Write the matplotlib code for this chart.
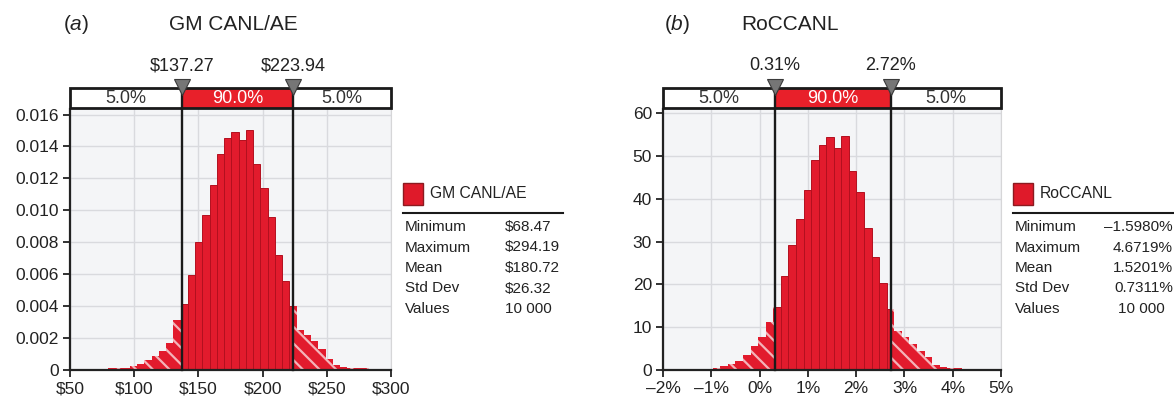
import numpy as np
import matplotlib
matplotlib.use("Agg")
import matplotlib.pyplot as plt
from matplotlib.patches import Rectangle
from matplotlib.transforms import blended_transform_factory
from matplotlib.lines import Line2D

plt.rcParams['font.family'] = ['Liberation Sans', 'DejaVu Sans']
plt.rcParams['mathtext.fontset'] = 'custom'
plt.rcParams['mathtext.rm'] = 'Liberation Sans'
plt.rcParams['mathtext.it'] = 'Liberation Sans:italic'
plt.rcParams['hatch.linewidth'] = 1.6

# ---- data ----
gm_name = "GM CANL/AE"
gm_min, gm_max = 68.47, 294.19
gm_lo, gm_hi = 137.27, 223.94
gm_heights = [0.00008, 0.00008, 0.0001, 0.0001, 0.00015, 0.00025, 0.0004, 0.0006,
              0.0009, 0.0012, 0.0017, 0.0031,
              0.00413, 0.00596, 0.00802, 0.00969, 0.01158, 0.0135, 0.01454, 0.01492,
              0.01438, 0.01502, 0.01288, 0.01138, 0.00958, 0.00721, 0.00558,
              0.0040, 0.0025, 0.0022, 0.0018, 0.0013, 0.0007, 0.0003, 0.0002,
              0.00012, 0.0001, 0.0001, 0.00008, 0.00006]
gm_xticks = [50, 100, 150, 200, 250, 300]
gm_xticklabels = ["$50", "$100", "$150", "$200", "$250", "$300"]
gm_yticks = [0, 0.002, 0.004, 0.006, 0.008, 0.010, 0.012, 0.014, 0.016]
gm_yticklabels = ["0", "0.002", "0.004", "0.006", "0.008", "0.010", "0.012", "0.014", "0.016"]
gm_stats = ["$68.47", "$294.19", "$180.72", "$26.32", "10 000"]

ro_name = "RoCCANL"
ro_min, ro_max = -1.5980, 4.6719
ro_lo, ro_hi = 0.31, 2.72
ro_heights = [0.2, 0.25, 0.3, 0.3, 0.5, 0.9, 1.4, 2.2, 3.5, 5.5, 7.7, 11.3,
              14.7, 21.9, 29.1, 35.3, 42.0, 49.1, 52.7, 54.4, 51.9, 54.7, 46.6,
              41.6, 33.1, 26.4, 20.3,
              14.3, 9.1, 7.7, 6.0, 4.5, 3.0, 1.2, 0.6, 0.4, 0.4, 0.3, 0.25, 0.2]
ro_xticks = [-2, -1, 0, 1, 2, 3, 4, 5]
ro_xticklabels = ["–2%", "–1%", "0%", "1%", "2%", "3%", "4%", "5%"]
ro_yticks = [0, 10, 20, 30, 40, 50, 60]
ro_yticklabels = ["0", "10", "20", "30", "40", "50", "60"]
ro_stats = ["–1.5980%", "4.6719%", "1.5201%", "0.7311%", "10 000"]

stat_names = ["Minimum", "Maximum", "Mean", "Std Dev", "Values"]
band_labels = ["5.0%", "90.0%", "5.0%"]

RED = '#e21b2d'
W, H = 1174, 404

fig = plt.figure(figsize=(W / 100, H / 100), dpi=100)


def fx(x):
    return x / W


def fy(y):
    return 1 - y / H


def panel(ax, heights, vmin, vmax, lo, hi, xlim, xticks, xtl, ytop, yticks, ytl,
          lo_txt, hi_txt):
    edges = np.linspace(vmin, vmax, len(heights) + 1)
    hl, hw, hh, sl, sw, sh = [], [], [], [], [], []
    for l, r, h in zip(edges[:-1], edges[1:], heights):
        if l < lo:
            hl.append(l); hw.append(min(r, lo) - l); hh.append(h)
        a, b = max(l, lo), min(r, hi)
        if b > a:
            sl.append(a); sw.append(b - a); sh.append(h)
        if r > hi:
            a = max(l, hi)
            hl.append(a); hw.append(r - a); hh.append(h)
    ax.bar(sl, sh, width=sw, align='edge', color=RED, edgecolor='#b3101f',
           linewidth=0.7, zorder=2)
    ax.bar(hl, hh, width=hw, align='edge', color=RED, edgecolor='#f4b3b9',
           linewidth=0, hatch='\\\\', zorder=2)

    ax.set_facecolor('#f4f5f7')
    ax.grid(True, color='#d9dade', linewidth=1)
    ax.set_axisbelow(True)
    ax.set_xlim(*xlim)
    ax.set_ylim(0, ytop)
    ax.set_xticks(xticks)
    ax.set_xticklabels(xtl, fontsize=12.5, color='#222222')
    ax.set_yticks(yticks)
    ax.set_yticklabels(ytl, fontsize=12.5, color='#222222')
    ax.tick_params(direction='out', length=5, width=1.3, color='#222222', pad=3)
    for s in ['left', 'bottom']:
        ax.spines[s].set_linewidth(1.6)
        ax.spines[s].set_color('#222222')
    ax.spines['top'].set_visible(False)
    ax.spines['right'].set_color('#d6d6d8')

    tr = blended_transform_factory(ax.transData, ax.transAxes)
    y0, y1 = 1.003, 1.08
    segs = [(xlim[0], lo, 'white', '#333333'), (lo, hi, '#e8202a', 'white'),
            (hi, xlim[1], 'white', '#333333')]
    for (a, b, fc, tc), lab in zip(segs, band_labels):
        ax.add_patch(Rectangle((a, y0), b - a, y1 - y0, transform=tr, facecolor=fc,
                               edgecolor='none', clip_on=False, zorder=4))
        ax.text((a + b) / 2, (y0 + y1) / 2, lab, transform=tr, ha='center',
                va='center', fontsize=13, color=tc, zorder=6, clip_on=False)
    ax.add_patch(Rectangle((xlim[0], y0), xlim[1] - xlim[0], y1 - y0, transform=tr,
                           facecolor='none', edgecolor='#1a1a1a', linewidth=2,
                           clip_on=False, zorder=5))
    for v, txt in [(lo, lo_txt), (hi, hi_txt)]:
        ax.add_line(Line2D([v, v], [0, y1], transform=tr, color='#1a1a1a',
                           linewidth=1.7, clip_on=False, zorder=5))
        ax.plot([v], [1.085], marker='v', markersize=11, color='#767676',
                markeredgecolor='#3a3a3a', markeredgewidth=0.8, transform=tr,
                clip_on=False, zorder=7)
        ax.text(v, 1.165, txt, transform=tr, ha='center', va='center',
                fontsize=13, color='#222222', clip_on=False)


def stats_box(x0, line_x1, name, values, val_x, val_ha):
    fig.patches.append(Rectangle((fx(x0), fy(205)), 20 / W, 22 / H,
                                 transform=fig.transFigure, facecolor='#df1a2a',
                                 edgecolor='#8c1a20', linewidth=1))
    fig.text(fx(x0 + 27), fy(194), name, fontsize=11.3, va='center', color='#222222')
    fig.add_artist(Line2D([fx(x0), fx(line_x1)], [fy(213), fy(213)],
                          transform=fig.transFigure, color='#1a1a1a', linewidth=1.5))
    for i, (n, v) in enumerate(zip(stat_names, values)):
        y = fy(227 + i * 20.5)
        fig.text(fx(x0 + 2), y, n, fontsize=11, va='center', color='#222222')
        fig.text(fx(val_x[i]), y, v, fontsize=11, va='center', ha=val_ha[i],
                 color='#222222')


axA = fig.add_axes([fx(70), fy(370), 321 / W, 261 / H])
panel(axA, gm_heights, gm_min, gm_max, gm_lo, gm_hi, (50, 300), gm_xticks,
      gm_xticklabels, 0.016345, gm_yticks, gm_yticklabels, "$137.27", "$223.94")

axB = fig.add_axes([fx(663), fy(370), 338 / W, 261 / H])
panel(axB, ro_heights, ro_min, ro_max, ro_lo, ro_hi, (-2, 5), ro_xticks,
      ro_xticklabels, 61.0, ro_yticks, ro_yticklabels, "0.31%", "2.72%")

stats_box(403, 563, gm_name, gm_stats, [505] * 5, ['left'] * 5)
stats_box(1013, 1174, ro_name, ro_stats, [1173, 1173, 1173, 1173, 1118],
          ['right'] * 4 + ['left'])

# titles
fig.text(fx(76), fy(25), r'($\it{a}$)', fontsize=15, ha='center', va='center',
         color='#222222')
fig.text(fx(233), fy(25), gm_name, fontsize=15, ha='center', va='center',
         color='#222222')
fig.text(fx(677), fy(25), r'($\it{b}$)', fontsize=15, ha='center', va='center',
         color='#222222')
fig.text(fx(790), fy(25), ro_name, fontsize=15, ha='center', va='center',
         color='#222222')

fig.savefig('out.png', dpi=100)
